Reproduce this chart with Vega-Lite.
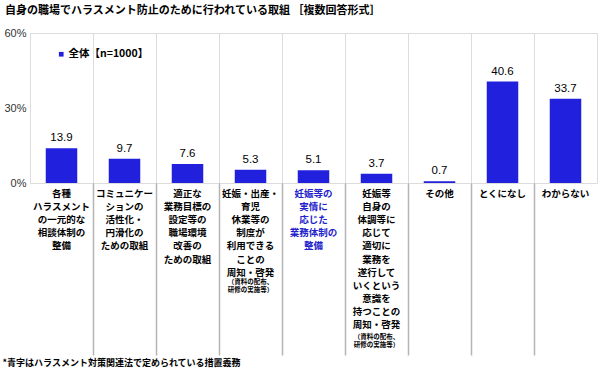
{
  "$schema": "https://vega.github.io/schema/vega-lite/v6.json",
  "width": 567,
  "height": 150,
  "autosize": {"type": "none"},
  "padding": {"left": 30, "top": 33, "right": 3, "bottom": 190},
  "background": "white",
  "title": {
    "text": "自身の職場でハラスメント防止のために行われている取組 ［複数回答形式］",
    "anchor": "start",
    "frame": "group",
    "dx": -25,
    "offset": 11,
    "font": "Noto Sans CJK JP",
    "fontSize": 11,
    "fontWeight": "bold",
    "color": "#000"
  },
  "config": {
    "view": {"stroke": "#dcdcdc", "strokeWidth": 1},
    "text": {"font": "Noto Sans CJK JP"}
  },
  "data": {
    "values": [
      {"item": "各種\nハラスメント\nの一元的な\n相談体制の\n整備", "value": 13.9, "note": "", "law": false, "series": "全体【n=1000】"},
      {"item": "コミュニケー\nションの\n活性化・\n円滑化の\nための取組", "value": 9.7, "note": "", "law": false, "series": "全体【n=1000】"},
      {"item": "適正な\n業務目標の\n設定等の\n職場環境\n改善の\nための取組", "value": 7.6, "note": "", "law": false, "series": "全体【n=1000】"},
      {"item": "妊娠・出産・\n育児\n休業等の\n制度が\n利用できる\nことの\n周知・啓発", "value": 5.3, "note": "（資料の配布、\n研修の実施等）", "law": false, "series": "全体【n=1000】"},
      {"item": "妊娠等の\n実情に\n応じた\n業務体制の\n整備", "value": 5.1, "note": "", "law": true, "series": "全体【n=1000】"},
      {"item": "妊娠等\n自身の\n体調等に\n応じて\n適切に\n業務を\n遂行して\nいくという\n意識を\n持つことの\n周知・啓発", "value": 3.7, "note": "（資料の配布、\n研修の実施等）", "law": false, "series": "全体【n=1000】"},
      {"item": "その他", "value": 0.7, "note": "", "law": false, "series": "全体【n=1000】"},
      {"item": "とくになし", "value": 40.6, "note": "", "law": false, "series": "全体【n=1000】"},
      {"item": "わからない", "value": 33.7, "note": "", "law": false, "series": "全体【n=1000】"}
    ]
  },
  "encoding": {
    "x": {
      "field": "item",
      "type": "nominal",
      "sort": null,
      "scale": {"paddingInner": 0, "paddingOuter": 0},
      "axis": {
        "labels": false,
        "domain": false,
        "bandPosition": 0,
        "tickSize": 172,
        "tickWidth": 1.5,
        "tickColor": {"condition": {"test": "datum.index <= 0", "value": "transparent"}, "value": "#b4b4b4"},
        "grid": true,
        "gridColor": "#dcdcdc",
        "gridWidth": 1,
        "title": "*青字はハラスメント対策関連法で定められている措置義務",
        "titleFont": "Noto Sans CJK JP",
        "titleFontSize": 9,
        "titleFontWeight": "bold",
        "titleColor": "#000",
        "titleAnchor": "start",
        "titleAlign": "left",
        "titleBaseline": "middle",
        "titleX": -28,
        "titleY": 179
      }
    },
    "y": {
      "field": "value",
      "type": "quantitative",
      "scale": {"domain": [0, 60]},
      "axis": {
        "values": [0, 30, 60],
        "labelExpr": "datum.value + '%'",
        "grid": false,
        "domain": false,
        "ticks": false,
        "labelPadding": 4,
        "labelFont": "Liberation Sans",
        "labelFontSize": 11,
        "labelColor": "#333",
        "title": null
      }
    }
  },
  "layer": [
    {
      "mark": {"type": "bar", "color": "#2020dd", "width": {"band": 0.5}},
      "encoding": {
        "color": {
          "field": "series",
          "type": "nominal",
          "scale": {"range": ["#2020dd"]},
          "legend": {
            "title": null,
            "orient": "none",
            "legendX": 26,
            "legendY": 16,
            "symbolType": "square",
            "symbolSize": 22,
            "symbolStrokeWidth": 0,
            "labelFont": "Noto Sans CJK JP",
            "labelFontSize": 10.5,
            "labelFontWeight": "bold",
            "labelColor": "#000",
            "labelOffset": 2
          }
        }
      }
    },
    {
      "mark": {"type": "text", "baseline": "bottom", "dy": -5, "font": "Liberation Sans", "fontSize": 11.5, "color": "#000"},
      "encoding": {"text": {"field": "value", "type": "quantitative", "format": ".1f"}}
    },
    {
      "mark": {"type": "text", "baseline": "top", "align": "center", "dy": 6, "fontSize": 9.5, "fontWeight": "bold", "lineBreak": "\n", "lineHeight": 13.1},
      "encoding": {
        "y": {"datum": 0},
        "text": {"field": "item"},
        "color": {"condition": {"test": "datum.law", "value": "#2222cc"}, "value": "#000"}
      }
    },
    {
      "transform": [{"filter": "datum.value == 5.3"}],
      "mark": {"type": "text", "baseline": "top", "align": "center", "dy": 96, "fontSize": 6.5, "fontWeight": "bold", "lineBreak": "\n", "lineHeight": 8, "color": "#000"},
      "encoding": {"y": {"datum": 0}, "text": {"field": "note"}}
    },
    {
      "transform": [{"filter": "datum.value == 3.7"}],
      "mark": {"type": "text", "baseline": "top", "align": "center", "dy": 151, "fontSize": 6.5, "fontWeight": "bold", "lineBreak": "\n", "lineHeight": 8, "color": "#000"},
      "encoding": {"y": {"datum": 0}, "text": {"field": "note"}}
    }
  ]
}
